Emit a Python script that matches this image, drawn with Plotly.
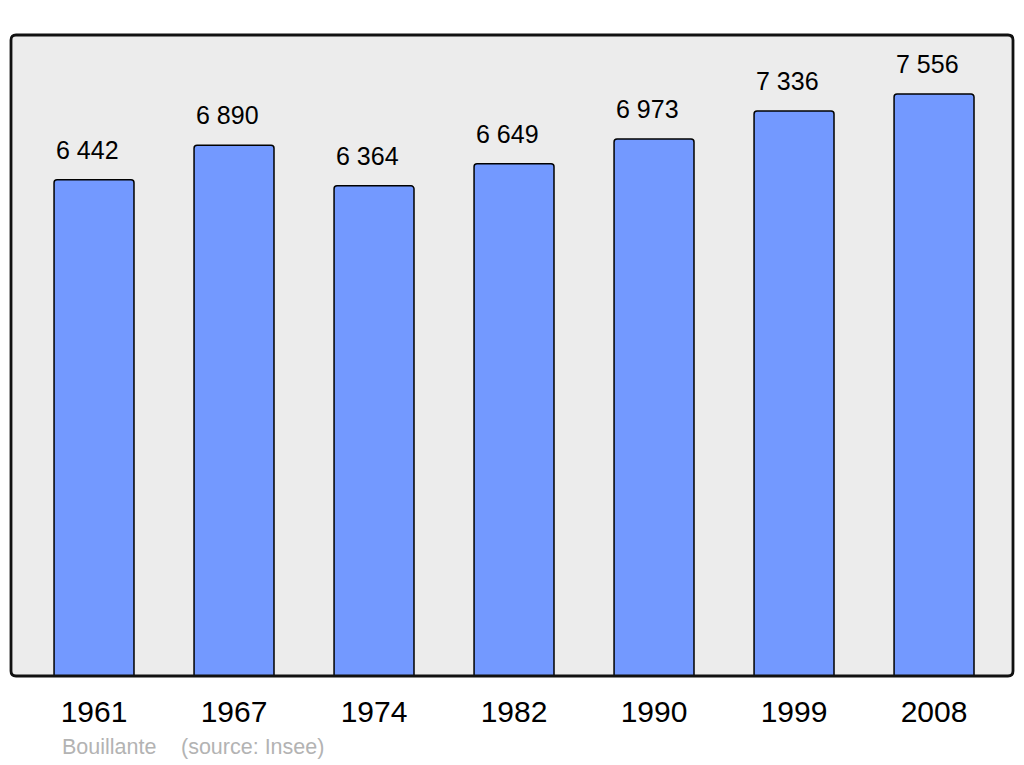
import plotly.graph_objects as go

years = ["1961", "1967", "1974", "1982", "1990", "1999", "2008"]
population = [6442, 6890, 6364, 6649, 6973, 7336, 7556]
labels = ["6 442", "6 890", "6 364", "6 649", "6 973", "7 336", "7 556"]

FONT = "Liberation Sans, Arial, sans-serif"

# page body has an 8px margin: figure starts at (8,8)
W, H = 1016, 757
L, T, R, B = 3, 27, 11, 89
PW, PH = W - L - R, H - T - B

fig = go.Figure()
fig.add_trace(go.Bar(
    x=list(range(len(years))), y=population,
    width=0.571,
    marker=dict(color="#7399ff", line=dict(color="#000000", width=1.5), cornerradius=3),
    hoverinfo="skip",
))

for i, (v, t) in enumerate(zip(population, labels)):
    fig.add_annotation(x=i, y=v, text=t, showarrow=False, xanchor="center",
                       yanchor="bottom", yshift=14, xshift=-7,
                       font=dict(family=FONT, size=25, color="#000000"))

fig.add_annotation(xref="paper", yref="paper", x=(60 - 11) / PW, y=-(747 - 676) / PH,
                   text="Bouillante", showarrow=False,
                   xanchor="left", yanchor="middle",
                   font=dict(family=FONT, size=21.5, color="#b3b3b3"))
fig.add_annotation(xref="paper", yref="paper", x=(179 - 11) / PW, y=-(747 - 676) / PH,
                   text="(source: Insee)", showarrow=False,
                   xanchor="left", yanchor="middle",
                   font=dict(family=FONT, size=21.5, color="#b3b3b3"))

rx, ry = 5 / PW, 5 / PH
path = (f"M {rx},0 L {1-rx},0 Q 1,0 1,{ry} L 1,{1-ry} Q 1,1 {1-rx},1 "
        f"L {rx},1 Q 0,1 0,{1-ry} L 0,{ry} Q 0,0 {rx},0 Z")
fig.add_shape(type="path", path=path, xref="paper", yref="paper",
              fillcolor="#ececec", line=dict(width=0), layer="below")
fig.add_shape(type="path", path=path, xref="paper", yref="paper",
              fillcolor="rgba(0,0,0,0)", line=dict(color="#111111", width=2.8), layer="above")

fig.update_layout(
    width=W, height=H,
    margin=dict(l=L, r=R, t=T, b=B, pad=0),
    paper_bgcolor="#ffffff", plot_bgcolor="rgba(0,0,0,0)",
    showlegend=False,
    xaxis=dict(range=[-0.593, 6.564], tickmode="array", tickvals=list(range(len(years))),
               ticktext=years, showgrid=False, zeroline=False, ticks="",
               tickfont=dict(family=FONT, size=30, color="#000000"), ticklabelstandoff=15,
               fixedrange=True),
    yaxis=dict(range=[0, 8322], showgrid=False, zeroline=False, showticklabels=False,
               ticks="", fixedrange=True),
)

fig.write_html("out.html")
